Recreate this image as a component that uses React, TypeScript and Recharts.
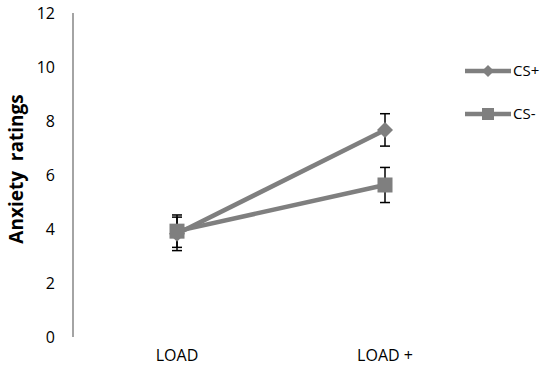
import { ErrorBar, Legend, Line, LineChart, XAxis, YAxis } from "recharts";

const conditions = ["LOAD", "LOAD +"];
const csPlus = [3.82, 7.67];
const csPlusErr = [0.62, 0.6];
const csMinus = [3.92, 5.63];
const csMinusErr = [0.6, 0.65];
const yTicks = [0, 2, 4, 6, 8, 10, 12];

const data = conditions.map((name, i) => ({
  name,
  "CS+": csPlus[i],
  "CS+err": csPlusErr[i],
  "CS-": csMinus[i],
  "CS-err": csMinusErr[i],
}));

const GRAY = "#7f7f7f";
const FONT = "'Open Sans', sans-serif";

const Diamond = ({ cx, cy, r = 8 }: { cx?: number; cy?: number; r?: number }) => {
  if (cx == null || cy == null) return null;
  return <path d={`M${cx},${cy - r}L${cx + r},${cy}L${cx},${cy + r}L${cx - r},${cy}Z`} fill={GRAY} />;
};

const Square = ({ cx, cy, s = 15 }: { cx?: number; cy?: number; s?: number }) => {
  if (cx == null || cy == null) return null;
  return <rect x={cx - s / 2} y={cy - s / 2} width={s} height={s} fill={GRAY} />;
};

function LegendBox() {
  const rows = [
    { label: "CS+", y: 16, mark: <Diamond cx={28} cy={16} r={6} /> },
    { label: "CS-", y: 59, mark: <Square cx={28} cy={59} s={12} /> },
  ];
  return (
    <svg width={85} height={75} style={{ display: "block" }}>
      {rows.map((r) => (
        <g key={r.label}>
          <line x1={5} x2={51} y1={r.y} y2={r.y} stroke={GRAY} strokeWidth={4.5} />
          {r.mark}
          <text x={53} y={r.y} dy="0.35em" fontSize={15} fontFamily={FONT} fill="#000">
            {r.label}
          </text>
        </g>
      ))}
    </svg>
  );
}

export default function App() {
  return (
    <div style={{ position: "absolute", left: 0, top: 0, background: "#fff" }}>
      <LineChart width={545} height={386} data={data} margin={{ top: 13, right: 56, bottom: 0, left: 0 }}>
        <XAxis
          dataKey="name"
          axisLine={false}
          tickLine={false}
          tickSize={0}
          tickMargin={13}
          height={49}
          padding={{ left: 104, right: 104 }}
          tick={{ fontSize: 16, fontFamily: FONT, fill: "#000" }}
        />
        <YAxis
          domain={[0, 12]}
          ticks={yTicks}
          width={73}
          tickLine={false}
          tickSize={0}
          tickMargin={18}
          axisLine={{ stroke: "#868686", strokeWidth: 1.5 }}
          tick={{ fontSize: 16, fontFamily: FONT, fill: "#000" }}
          label={({ viewBox }: any) => {
            const cy = viewBox.y + viewBox.height / 2 - 6;
            return (
              <text
                x={16}
                y={cy}
                transform={`rotate(-90, 16, ${cy})`}
                textAnchor="middle"
                dominantBaseline="central"
                fontSize={19}
                fontWeight="bold"
                fontFamily={FONT}
                style={{ whiteSpace: "pre" }}
              >
                Anxiety  ratings
              </text>
            );
          }}
        />
        <Legend
          layout="vertical"
          align="center"
          verticalAlign="middle"
          wrapperStyle={{ position: "absolute", left: 460, top: 55, width: 85 }}
          content={() => <LegendBox />}
        />
        <Line
          dataKey="CS+"
          stroke={GRAY}
          strokeWidth={4.5}
          isAnimationActive={false}
          dot={(p: any) => <Diamond key={`d${p.index}`} cx={p.cx} cy={p.cy} />}
          activeDot={false}
        >
          <ErrorBar dataKey="CS+err" width={5} stroke="#000" strokeWidth={1.5} direction="y" />
        </Line>
        <Line
          dataKey="CS-"
          stroke={GRAY}
          strokeWidth={4.5}
          isAnimationActive={false}
          dot={(p: any) => <Square key={`s${p.index}`} cx={p.cx} cy={p.cy} />}
          activeDot={false}
        >
          <ErrorBar dataKey="CS-err" width={5} stroke="#000" strokeWidth={1.5} direction="y" />
        </Line>
      </LineChart>
    </div>
  );
}
